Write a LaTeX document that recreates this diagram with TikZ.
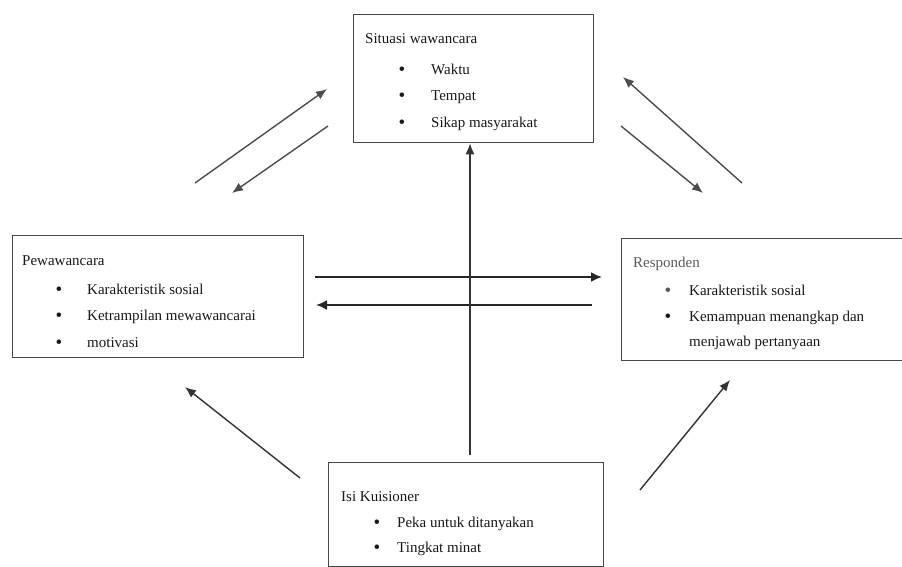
\documentclass[tikz,border=0pt]{standalone}
\usepackage{fontspec}
\setmainfont{Liberation Serif}
\usetikzlibrary{arrows.meta}
\begin{document}
\begin{tikzpicture}[x=1pt,y=-1pt,
  box/.style={draw=black!72, line width=1.3pt, inner sep=0pt, anchor=north west},
  txt/.style={anchor=base west, inner sep=0pt, font=\fontsize{15}{18}\selectfont, text=black!90},
  bul/.style={anchor=base, inner sep=0pt, font=\fontsize{19}{20}\selectfont, text=black!90},
  arr/.style={draw=black!70, line width=1.4pt, -{Latex[length=11pt,width=9pt]}},
  harr/.style={draw=black!85, line width=2pt, -{Latex[length=11pt,width=10pt]}}]
\useasboundingbox (0,0) rectangle (902,566);
\clip (0,0) rectangle (902,566);
\fill[white] (0,0) rectangle (902,566);

% boxes
\node[box, minimum width=240pt, minimum height=128pt] (situasi) at (353,14) {};
\node[box, minimum width=291pt, minimum height=122pt] (pew) at (12,235) {};
\node[box, minimum width=290pt, minimum height=122pt] (resp) at (621,238) {};
\node[box, minimum width=275pt, minimum height=104pt] (isi) at (328,462) {};

% top box text
\node[txt] (t0) at (365,43) {Situasi wawancara};
\node[bul] (tb1) at (402,75) {\textbullet};
\node[bul] (tb2) at (402,101) {\textbullet};
\node[bul] (tb3) at (402,128) {\textbullet};
\node[txt] (t1) at (431,74) {Waktu};
\node[txt] (t2) at (431,100) {Tempat};
\node[txt] (t3) at (431,127) {Sikap masyarakat};

% left box text
\node[txt] (p0) at (22,265) {Pewawancara};
\node[bul] (pb1) at (59,295) {\textbullet};
\node[bul] (pb2) at (59,321) {\textbullet};
\node[bul] (pb3) at (59,348) {\textbullet};
\node[txt] (p1) at (87,294) {Karakteristik sosial};
\node[txt] (p2) at (87,320) {Ketrampilan mewawancarai};
\node[txt] (p3) at (87,347) {motivasi};

% right box text
\node[txt, text=black!65] (r0) at (633,267) {Responden};
\node[bul, text=black!65] (rb1) at (668,296) {\textbullet};
\node[bul] (rb2) at (668,322) {\textbullet};
\node[txt] (r1) at (689,295) {Karakteristik sosial};
\node[txt] (r2) at (689,321) {Kemampuan menangkap dan};
\node[txt] (r3) at (689,346) {menjawab pertanyaan};

% bottom box text
\node[txt] (i0) at (341,501) {Isi Kuisioner};
\node[bul] (ib1) at (377,528) {\textbullet};
\node[bul] (ib2) at (377,553) {\textbullet};
\node[txt] (i1) at (397,527) {Peka untuk ditanyakan};
\node[txt] (i2) at (397,552) {Tingkat minat};

% arrow end points
\coordinate (a1s) at (195,183); \coordinate (a1e) at (327,89);
\coordinate (a2s) at (328,126); \coordinate (a2e) at (232,193);
\coordinate (a3s) at (742,183); \coordinate (a3e) at (623,77);
\coordinate (a4s) at (621,126); \coordinate (a4e) at (703,193);
\coordinate (h1s) at (315,277); \coordinate (h1e) at (602,277);
\coordinate (h2s) at (592,305); \coordinate (h2e) at (316,305);
\coordinate (vs) at (470,455);
\coordinate (bls) at (300,478); \coordinate (ble) at (185,387);
\coordinate (brs) at (640,490); \coordinate (bre) at (730,380);

\draw[arr] (a1s) -- (a1e);
\draw[arr] (a2s) -- (a2e);
\draw[arr] (a3s) -- (a3e);
\draw[arr] (a4s) -- (a4e);
\draw[harr] (h1s) -- (h1e);
\draw[harr] (h2s) -- (h2e);
\draw[arr, draw=black!80] (vs) -- (vs |- situasi.south);
\draw[arr, draw=black!80] (bls) -- (ble);
\draw[arr, draw=black!80] (brs) -- (bre);
\end{tikzpicture}
\end{document}
